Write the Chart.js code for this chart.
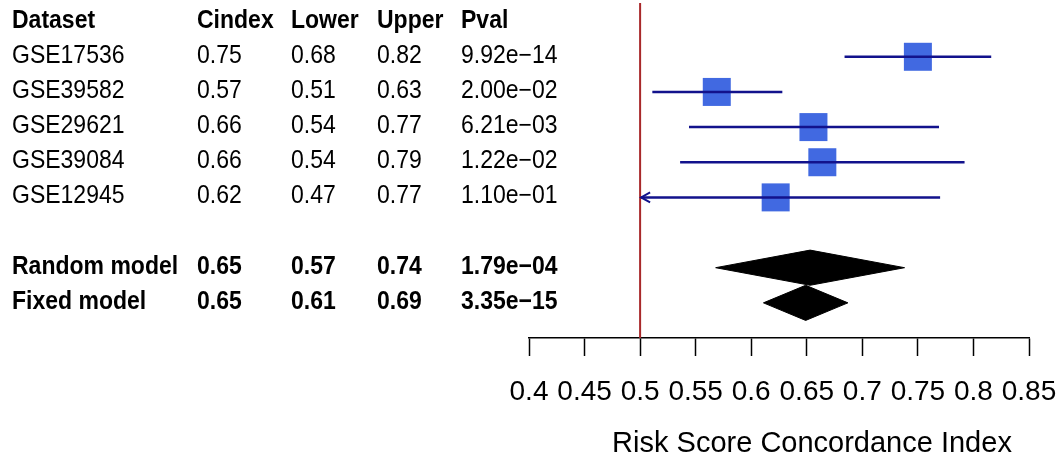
<!DOCTYPE html>
<html>
<head>
<meta charset="utf-8">
<script src="https://cdn.jsdelivr.net/npm/chart.js@4/dist/chart.umd.min.js"></script>
<style>
  html, body { margin: 0; padding: 0; background: #fff; }
  canvas { display: block; }
</style>
</head>
<body>
<canvas id="forest" width="1063" height="464"></canvas>
<script>
// study rows
const studies = ['GSE17536', 'GSE39582', 'GSE29621', 'GSE39084', 'GSE12945'];
const cindex = [0.750, 0.569, 0.656, 0.664, 0.622];
const lower = [0.684, 0.511, 0.544, 0.536, 0.47];
const upper = [0.816, 0.628, 0.769, 0.792, 0.770];

// pooled rows
const models = ['Random model', 'Fixed model'];
const modelEst = [0.653, 0.649];
const modelLower = [0.568, 0.611];
const modelUpper = [0.738, 0.687];

// table text, as printed
const header = ['Dataset', 'Cindex', 'Lower', 'Upper', 'Pval'];
const cindexText = ['0.75', '0.57', '0.66', '0.66', '0.62'];
const lowerText = ['0.68', '0.51', '0.54', '0.54', '0.47'];
const upperText = ['0.82', '0.63', '0.77', '0.79', '0.77'];
const pvalText = ['9.92e\u221214', '2.00e\u221202', '6.21e\u221203', '1.22e\u221202', '1.10e\u221201'];
const modelCindexText = ['0.65', '0.65'];
const modelLowerText = ['0.57', '0.61'];
const modelUpperText = ['0.74', '0.69'];
const modelPvalText = ['1.79e\u221204', '3.35e\u221215'];

// axis
const xMin = 0.4, xMax = 0.85, xStep = 0.05;
const xTitle = 'Risk Score Concordance Index';
const clipLow = 0.5;   // CI lines below this are cut and get an arrow
const refLine = 0.5;

const studyRows = [1, 2, 3, 4, 5];
const modelRows = [7, 8];

const FONT = '"Liberation Sans", Arial, Helvetica, sans-serif';
const lineColor = '#12128c';

// CI segments, null between them so they don't join
const ciData = [];
studies.forEach((s, i) => {
    ciData.push({ x: Math.max(lower[i], clipLow), y: studyRows[i] });
    ciData.push({ x: upper[i], y: studyRows[i] });
    ciData.push({ x: null, y: null });
});

const diamondSets = models.map((m, i) => ({
    type: 'line',
    data: [
        { x: modelLower[i], y: modelRows[i] },
        { x: modelEst[i], y: modelRows[i] - 0.5 },
        { x: modelUpper[i], y: modelRows[i] },
        { x: modelEst[i], y: modelRows[i] + 0.5 },
        { x: modelLower[i], y: modelRows[i] }
    ],
    borderColor: '#000',
    borderWidth: 1,
    backgroundColor: '#000',
    fill: 'shape',
    pointRadius: 0,
    tension: 0
}));

// the text is a bit narrower than plain Arial in the original
function squeezedText(ctx, txt, x, y, sx) {
    ctx.save();
    ctx.scale(sx, 1);
    ctx.fillText(txt, x / sx, y);
    ctx.restore();
}

// no label overflow padding, the layout padding already leaves room
function noScalePadding(scale) {
    scale.paddingTop = 0;
    scale.paddingBottom = 0;
    scale.paddingLeft = 0;
    scale.paddingRight = 0;
}

// table on the left, arrow heads, axis title
const tablePlugin = {
    id: 'tablePlugin',
    afterDraw(chart) {
        const ctx = chart.ctx;
        const y = chart.scales.y;
        const x = chart.scales.x;
        const cols = [12, 197, 291, 377, 461];
        const sx = 0.92;

        ctx.save();
        ctx.fillStyle = '#000';
        ctx.textBaseline = 'middle';
        ctx.textAlign = 'left';

        ctx.font = 'bold 25px ' + FONT;
        header.forEach((h, c) => squeezedText(ctx, h, cols[c], y.getPixelForValue(0) - 1, sx));

        ctx.font = '25px ' + FONT;
        studies.forEach((s, i) => {
            const yy = y.getPixelForValue(studyRows[i]) - 1;
            [s, cindexText[i], lowerText[i], upperText[i], pvalText[i]]
                .forEach((t, c) => squeezedText(ctx, t, cols[c], yy, sx));
        });

        ctx.font = 'bold 25px ' + FONT;
        models.forEach((m, i) => {
            const yy = y.getPixelForValue(modelRows[i]) - 1;
            [m, modelCindexText[i], modelLowerText[i], modelUpperText[i], modelPvalText[i]]
                .forEach((t, c) => squeezedText(ctx, t, cols[c], yy, sx));
        });

        // axis title, sits a little right of the axis centre like the original
        ctx.textAlign = 'center';
        ctx.font = '29px ' + FONT;
        ctx.fillText(xTitle, (x.left + x.right) / 2 + 33, 444);

        // arrow where the CI runs past the clip
        ctx.strokeStyle = lineColor;
        ctx.lineWidth = 2;
        studies.forEach((s, i) => {
            if (lower[i] < clipLow) {
                const px = x.getPixelForValue(clipLow) + 1;
                const py = y.getPixelForValue(studyRows[i]);
                ctx.beginPath();
                ctx.moveTo(px + 9, py - 5);
                ctx.lineTo(px, py);
                ctx.lineTo(px + 9, py + 5);
                ctx.stroke();
            }
        });
        ctx.restore();
    }
};

new Chart(document.getElementById('forest'), {
    type: 'scatter',
    data: {
        datasets: [
            {
                type: 'line',
                data: [{ x: refLine, y: -0.53 }, { x: refLine, y: 9 }],
                borderColor: '#a8282a',
                borderWidth: 2,
                pointRadius: 0
            },
            {
                type: 'line',
                data: ciData,
                borderColor: lineColor,
                borderWidth: 2.5,
                pointRadius: 0,
                spanGaps: false
            },
            {
                data: studies.map((s, i) => ({ x: cindex[i], y: studyRows[i] })),
                pointStyle: 'rect',
                pointRadius: 19.8,
                pointBackgroundColor: '#4169e1',
                pointBorderColor: '#4169e1',
                pointBorderWidth: 0
            },
            ...diamondSets
        ]
    },
    options: {
        responsive: false,
        animation: false,
        devicePixelRatio: 1,
        layout: { autoPadding: false, padding: { left: 529, right: 34, top: 3, bottom: 0 } },
        plugins: { legend: { display: false }, tooltip: { enabled: false } },
        scales: {
            y: {
                type: 'linear',
                display: false,
                reverse: true,
                min: -0.53,
                max: 9,
                afterFit: noScalePadding
            },
            x: {
                type: 'linear',
                position: 'bottom',
                min: xMin,
                max: xMax,
                afterFit: scale => { scale.height = 126; noScalePadding(scale); },
                border: { display: true, color: '#000', width: 1.5 },
                grid: { drawOnChartArea: false, drawTicks: true, tickLength: 18, tickColor: '#000', tickWidth: 1.5 },
                ticks: {
                    stepSize: xStep,
                    autoSkip: false,
                    maxRotation: 0,
                    minRotation: 0,
                    padding: 19,
                    color: '#000',
                    font: { family: FONT, size: 28 },
                    callback: v => String(+v.toFixed(2))
                }
            }
        }
    },
    plugins: [tablePlugin]
});
</script>
</body>
</html>
